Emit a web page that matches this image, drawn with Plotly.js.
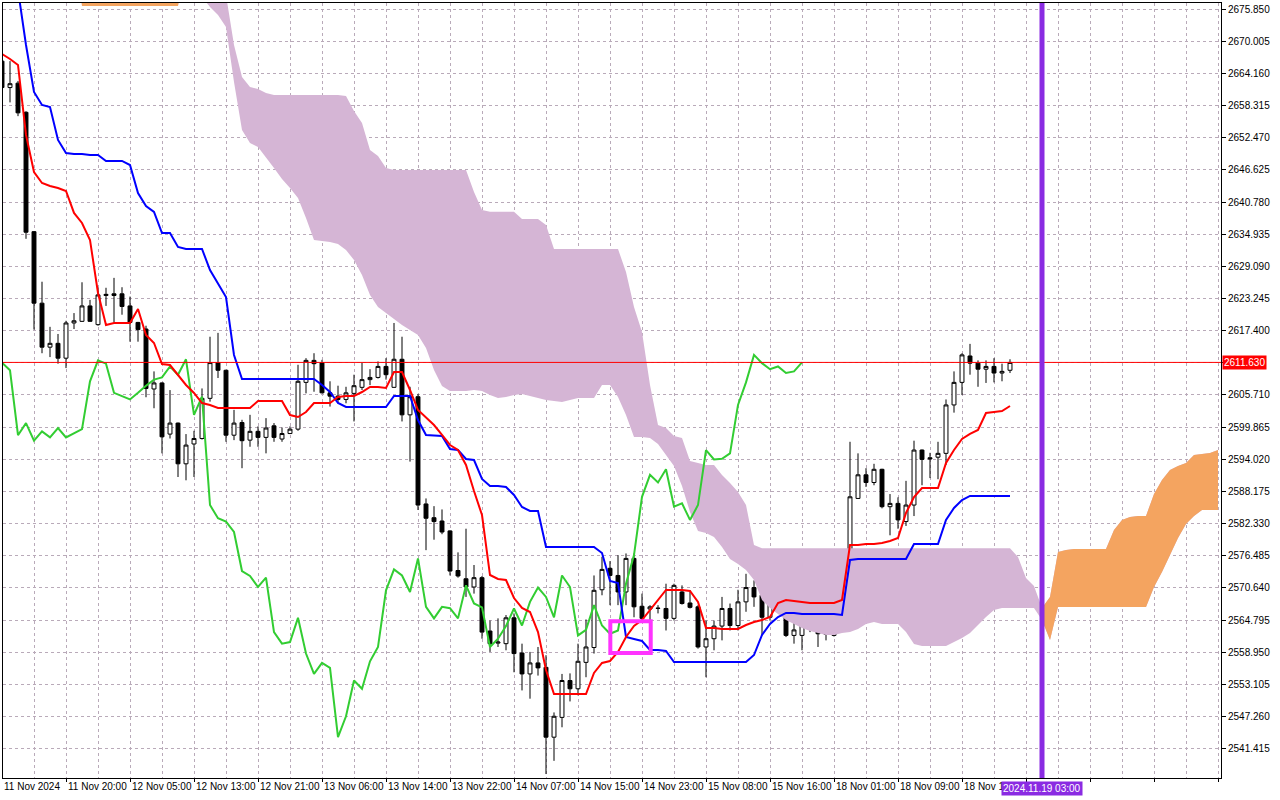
<!DOCTYPE html>
<html><head><meta charset="utf-8">
<script src="https://cdn.plot.ly/plotly-3.0.1.min.js"></script>
<style>html,body{margin:0;padding:0;background:#fff;}#chart{width:1280px;height:800px;}</style>
</head><body><div id="chart"></div>
<script>
// ---- Candles (XAUUSD H1), index 0..126 ----
const openP = [
2666.4,2661.6,2662.4,2657.1,2635.4,2622.4,2614.4,2615.1,2612.4,2618.8,
2619.1,2621.9,2618.5,2623.8,2624.1,2624.1,2621.9,2618.9,2617.7,2606.8,
2607.9,2598.6,2600.6,2593.2,2596.8,2597.8,2605.1,2611.6,2610.2,2598.4,
2600.7,2597.5,2599.1,2598.0,2600.1,2597.7,2598.7,2599.5,2608.0,2612.0,
2611.6,2606.1,2605.5,2604.9,2606.0,2607.1,2608.5,2608.9,2610.9,2607.1,
2612.2,2602.1,2605.4,2585.9,2583.4,2582.8,2581.0,2573.8,2572.3,2570.8,
2572.5,2562.8,2560.6,2560.5,2565.2,2558.8,2555.0,2557.0,2556.2,2543.5,
2547.1,2553.8,2552.3,2557.1,2559.8,2570.3,2574.2,2572.9,2569.9,2576.0,
2567.3,2566.8,2566.9,2566.9,2565.1,2569.9,2567.9,2567.2,2559.9,2561.4,
2563.7,2566.9,2563.8,2568.1,2570.7,2569.3,2565.3,2572.9,2570.9,2562.0,
2562.0,2567.5,2563.8,2562.2,2562.0,2571.4,2576.6,2586.9,2591.2,2589.8,
2592.2,2585.4,2586.0,2582.7,2585.7,2595.7,2594.3,2594.4,2595.1,2603.9,
2608.0,2612.8,2611.5,2610.4,2610.9,2609.7,2610.2];
const highP = [
2667.0,2666.4,2662.8,2657.3,2635.5,2626.3,2618.1,2616.8,2619.2,2620.6,
2626.2,2623.0,2625.2,2625.2,2627.0,2625.3,2623.6,2619.0,2618.3,2610.0,
2608.0,2606.6,2600.7,2598.6,2599.2,2606.9,2616.3,2617.0,2610.3,2603.0,
2601.2,2602.1,2600.0,2601.5,2600.6,2599.8,2600.0,2611.2,2612.4,2613.3,
2612.1,2608.2,2607.4,2607.2,2609.4,2611.6,2610.4,2611.8,2612.4,2618.8,
2616.3,2607.2,2605.9,2586.9,2585.5,2584.9,2581.1,2577.1,2581.4,2574.8,
2572.8,2564.7,2565.1,2565.7,2566.0,2560.5,2559.0,2559.9,2558.4,2548.0,
2555.0,2555.1,2560.5,2564.9,2572.9,2576.3,2575.5,2576.6,2576.9,2576.9,
2569.6,2567.5,2567.5,2571.4,2571.4,2571.1,2570.2,2567.5,2564.7,2564.7,
2569.0,2567.8,2570.3,2573.2,2572.0,2575.7,2576.0,2576.0,2573.5,2564.4,
2567.8,2567.8,2563.9,2563.8,2575.7,2577.5,2597.2,2595.1,2592.4,2593.2,
2592.3,2587.7,2587.1,2590.1,2597.4,2595.8,2595.2,2597.2,2604.9,2610.0,
2613.3,2615.0,2612.0,2612.0,2612.4,2611.4,2612.2];
const lowP = [
2661.0,2658.9,2656.4,2634.1,2617.6,2613.3,2612.6,2611.4,2610.6,2617.7,
2619.0,2619.0,2618.3,2621.9,2618.9,2620.3,2615.4,2615.4,2605.3,2603.3,
2595.1,2597.8,2590.8,2590.2,2590.8,2597.6,2604.5,2608.8,2597.2,2597.5,
2592.4,2596.3,2596.3,2595.1,2597.2,2597.2,2598.6,2599.2,2606.0,2606.3,
2606.0,2603.6,2604.2,2604.2,2600.9,2606.6,2607.5,2608.7,2608.5,2607.0,
2600.9,2593.6,2584.8,2577.5,2579.4,2580.4,2572.9,2572.5,2569.0,2569.6,
2561.4,2559.0,2559.9,2559.3,2555.3,2552.0,2550.5,2554.7,2536.8,2539.2,
2545.3,2550.0,2551.1,2554.4,2558.7,2569.3,2567.5,2567.5,2567.5,2565.3,
2564.4,2564.7,2566.0,2562.9,2564.7,2567.6,2566.9,2559.6,2554.4,2559.3,
2561.1,2562.9,2562.9,2566.3,2567.2,2562.0,2564.7,2570.2,2561.7,2560.5,
2559.3,2562.6,2559.9,2561.1,2561.8,2569.6,2576.3,2586.8,2589.0,2589.3,
2585.1,2580.2,2581.4,2581.9,2583.7,2589.3,2590.6,2590.4,2593.0,2602.5,
2605.7,2609.4,2607.2,2607.9,2608.0,2608.2,2609.7];
const closeP = [
2661.6,2662.3,2657.0,2635.3,2622.4,2614.4,2615.1,2612.4,2618.8,2619.2,
2621.9,2619.1,2623.9,2624.0,2623.8,2621.8,2618.9,2617.6,2606.9,2607.9,
2598.1,2600.6,2593.2,2596.6,2597.8,2605.1,2611.6,2610.2,2598.4,2600.6,
2597.4,2599.1,2598.0,2599.7,2598.0,2598.7,2599.5,2608.2,2612.0,2611.4,
2606.1,2605.5,2604.9,2606.1,2607.4,2608.5,2608.9,2610.9,2609.4,2612.2,
2602.1,2605.4,2585.7,2583.3,2582.7,2580.8,2573.7,2572.8,2570.8,2572.5,
2562.6,2560.5,2560.8,2565.2,2558.7,2555.0,2557.0,2556.1,2543.5,2547.3,
2553.8,2552.3,2557.3,2559.9,2570.2,2574.0,2572.9,2569.9,2576.0,2567.2,
2565.1,2567.2,2566.95,2565.1,2571.1,2567.8,2567.1,2559.9,2561.4,2563.7,
2566.9,2563.8,2568.1,2570.7,2569.0,2565.3,2572.9,2570.8,2562.0,2563.0,
2567.5,2563.8,2562.3,2562.9,2571.4,2576.6,2587.2,2591.2,2589.8,2592.2,
2585.4,2586.0,2583.0,2585.7,2595.7,2594.0,2594.1,2595.1,2603.9,2608.0,
2613.0,2611.5,2610.4,2610.9,2609.7,2610.0,2611.63];

// ---- Ichimoku lines ----
const tenkan = [
2667.70,2666.79,2665.70,2652.98,2646.25,2644.25,2643.71,2643.34,2642.80,2638.80,
2636.98,2633.89,2624.25,2618.43,2618.80,2618.80,2618.80,2621.34,2616.62,2615.16,
2611.34,2611.16,2609.34,2607.53,2606.07,2604.25,2603.89,2603.35,2603.35,2603.35,
2603.35,2603.35,2604.62,2604.62,2604.62,2604.62,2602.07,2601.71,2602.62,2604.25,
2604.25,2604.25,2605.35,2605.53,2605.53,2606.25,2607.16,2607.16,2606.98,2609.89,
2609.89,2606.62,2602.98,2601.53,2600.25,2598.44,2596.62,2595.71,2592.98,2588.26,
2583.89,2572.98,2572.26,2572.08,2568.80,2566.99,2566.26,2562.62,2555.71,2551.35,
2551.35,2551.35,2551.35,2551.35,2555.17,2556.99,2557.35,2558.99,2561.71,2563.71,
2564.80,2566.62,2568.44,2570.26,2570.26,2570.26,2570.08,2568.08,2563.35,2563.35,
2563.17,2563.17,2563.17,2563.89,2564.44,2564.80,2565.35,2567.89,2568.44,2568.26,
2568.08,2567.89,2567.89,2567.89,2567.89,2568.44,2578.44,2578.44,2578.62,2578.62,
2578.80,2579.17,2579.71,2584.26,2587.17,2588.80,2588.80,2588.80,2593.35,2595.71,
2597.71,2598.62,2599.35,2602.44,2602.62,2602.80,2603.71];
const kijun = [
2688.43,2683.88,2679.34,2669.34,2660.79,2658.43,2658.07,2652.07,2649.70,2649.52,
2649.52,2649.34,2649.34,2648.25,2648.25,2648.25,2647.52,2642.43,2640.07,2638.98,
2635.16,2635.16,2632.62,2632.25,2632.25,2632.25,2628.43,2625.89,2623.52,2612.98,
2608.62,2608.62,2608.62,2608.62,2608.62,2608.62,2608.62,2608.62,2608.62,2608.62,
2607.53,2606.25,2604.25,2603.53,2603.53,2603.53,2603.53,2603.53,2603.53,2605.53,
2605.53,2605.53,2601.16,2598.44,2598.35,2598.26,2595.89,2595.71,2594.07,2593.89,
2590.44,2589.17,2589.17,2588.98,2587.53,2585.35,2584.62,2584.62,2578.08,2578.08,
2578.08,2578.08,2578.08,2578.08,2578.08,2576.98,2571.89,2571.53,2561.71,2561.35,
2560.99,2559.35,2559.35,2559.17,2557.17,2557.17,2557.17,2557.17,2557.17,2557.17,
2557.17,2557.17,2557.17,2557.17,2558.44,2562.08,2564.08,2565.35,2566.08,2566.08,
2565.89,2565.89,2565.89,2565.89,2565.89,2565.71,2575.71,2575.89,2575.89,2575.89,
2575.89,2575.89,2575.89,2575.89,2578.62,2578.62,2578.62,2578.62,2582.98,2585.17,
2586.62,2587.35,2587.35,2587.35,2587.35,2587.35,2587.35];
// Senkou spans as drawn (already shifted 26 bars ahead), index 0..152
const spanA = [
2700,2700,2700,2700,2700,2700,2700,2700,2700,2700,
2690,2690,2690,2690,2690,2690,2690,2690,2690,2690,
2690,2690,2690,2695,2695,2678.07,2676.25,2674.79,2672.61,2662.61,
2653.89,2651.52,2650.80,2648.80,2646.98,2644.98,2643.34,2641.52,2637.89,2633.89,
2633.71,2633.52,2633.16,2632.07,2630.25,2627.52,2623.89,2621.71,2620.62,2619.53,
2618.43,2617.53,2616.62,2614.25,2610.25,2607.35,2606.44,2606.44,2606.44,2606.62,
2606.44,2605.71,2605.16,2605.35,2605.71,2605.89,2605.53,2605.16,2604.80,2604.62,
2604.44,2604.80,2605.16,2605.16,2605.16,2607.53,2607.53,2605.35,2602.07,2598.07,
2598.07,2597.89,2596.80,2594.80,2592.80,2589.17,2584.44,2580.98,2580.62,2579.89,
2578.08,2575.89,2574.98,2573.89,2572.08,2568.44,2566.99,2565.89,2564.80,2564.08,
2563.35,2562.80,2562.44,2562.08,2562.08,2562.44,2562.62,2563.17,2564.08,2564.44,
2564.08,2564.08,2564.08,2562.62,2560.44,2560.08,2560.08,2560.08,2560.08,2560.80,
2561.53,2562.44,2563.89,2565.35,2566.62,2566.99,2566.99,2566.99,2566.99,2566.99,
2566.99,2568.99,2577.17,2577.53,2577.71,2577.71,2577.71,2577.71,2577.71,2581.17,
2582.98,2583.53,2583.71,2583.71,2587.71,2590.26,2592.07,2592.80,2593.35,2594.80,
2594.98,2595.16,2595.71];
const spanB = [
2690,2690,2690,2690,2690,2690,2690,2690,2690,2690,
2676.43,2676.43,2676.43,2676.43,2676.43,2676.43,2676.43,2676.43,2676.43,2676.43,
2676.43,2676.43,2676.43,2685,2685,2681.16,2680.25,2679.34,2678.43,2669.34,
2663.52,2661.70,2661.34,2660.61,2660.25,2660.25,2660.25,2660.25,2660.25,2660.25,
2660.25,2660.25,2660.25,2660.07,2657.34,2655.16,2650.25,2649.16,2646.98,2646.61,
2646.61,2646.61,2646.61,2646.61,2646.61,2646.61,2646.61,2646.61,2646.61,2642.61,
2639.34,2639.03,2639.03,2639.03,2639.03,2637.71,2637.71,2637.71,2636.61,2632.25,
2632.25,2632.25,2632.25,2632.25,2632.25,2632.25,2632.25,2632.25,2628.07,2621.71,
2617.16,2607.53,2600.25,2599.71,2598.26,2597.89,2593.71,2593.35,2592.98,2592.98,
2591.16,2589.71,2588.07,2585.71,2578.44,2577.84,2577.84,2577.84,2577.84,2577.84,
2577.84,2577.84,2577.84,2577.84,2577.84,2577.84,2577.84,2577.84,2577.84,2577.84,
2577.84,2577.84,2577.84,2577.84,2577.84,2577.84,2577.84,2577.84,2577.84,2577.84,
2577.84,2577.84,2577.84,2577.84,2577.84,2577.84,2577.84,2576.26,2572.44,2570.99,
2564.80,2561.17,2567.17,2567.17,2567.17,2567.17,2567.17,2567.17,2567.17,2567.17,
2567.17,2567.17,2567.17,2567.17,2570.80,2573.53,2576.62,2579.71,2582.26,2583.71,
2584.80,2584.80,2584.80];
const chikouShift = 26;

// ---- Axis texts ----
const timeLabels = ['11 Nov 2024','11 Nov 20:00','12 Nov 05:00','12 Nov 13:00','12 Nov 21:00',
 '13 Nov 06:00','13 Nov 14:00','13 Nov 22:00','14 Nov 07:00','14 Nov 15:00','14 Nov 23:00',
 '15 Nov 08:00','15 Nov 16:00','18 Nov 01:00','18 Nov 09:00','18 Nov 17:00'];
const labelIndex = [0,8,16,24,32,40,48,56,64,72,80,88,96,104,112,120];
const yTicks = [2541.415,2547.260,2553.105,2558.950,2564.795,2570.640,2576.485,2582.330,
 2588.175,2594.020,2599.865,2605.710,2611.555,2617.400,2623.245,2629.090,2634.935,2640.780,
 2646.625,2652.470,2658.315,2664.160,2670.005,2675.850];
const lastPrice = 2611.63;
const markerIndex = 130;
const markerLabel = '2024.11.19 03:00';
const boxIdx = [76.04, 81.09];
const boxPrice = [2558.80, 2564.57];

// ---- Build ----
const xRange = [0.125, 152.375];
const yRange = [2536.08, 2676.97];
const idx = closeP.map((_, i) => i);
const cIdx = spanA.map((_, i) => i);
const upper = spanA.map((a, i) => Math.max(a, spanB[i]));
const lower = spanA.map((a, i) => Math.min(a, spanB[i]));
const rev = a => a.slice().reverse();

const traces = [];
traces.push({type:'scatter', mode:'lines', x: cIdx.concat(rev(cIdx)), y: upper.concat(rev(lower)),
  fill:'toself', fillcolor:'#d5b5d5', line:{width:0}, hoverinfo:'skip'});
let start = null;
for (let i = 0; i <= spanA.length; i++) {
  const bull = i < spanA.length && spanA[i] > spanB[i];
  if (bull && start === null) start = i;
  if (!bull && start !== null) {
    const xs = cIdx.slice(start, i);
    traces.push({type:'scatter', mode:'lines', x: xs.concat(rev(xs)),
      y: spanA.slice(start, i).concat(rev(spanB.slice(start, i))),
      fill:'toself', fillcolor:'#f4a460', line:{width:0}, hoverinfo:'skip'});
    start = null;
  }
}
traces.push({type:'candlestick', x: idx, open: openP, high: highP, low: lowP, close: closeP,
  increasing:{line:{color:'#000000', width:1}, fillcolor:'#ffffff'},
  decreasing:{line:{color:'#000000', width:1}, fillcolor:'#000000'},
  whiskerwidth:0, hoverinfo:'skip'});
traces.push({type:'scatter', mode:'lines', x: idx.slice(0, closeP.length - chikouShift),
  y: closeP.slice(chikouShift), line:{color:'#32cd32', width:2}, hoverinfo:'skip'});
traces.push({type:'scatter', mode:'lines', x: idx, y: kijun, line:{color:'#0000ff', width:2}, hoverinfo:'skip'});
traces.push({type:'scatter', mode:'lines', x: idx, y: tenkan, line:{color:'#ff0000', width:2}, hoverinfo:'skip'});

const gc = '#b9aab9';
const font = {family:'Liberation Sans, Arial, sans-serif', size:10, color:'#000'};
const frac = i => (i - xRange[0]) / (xRange[1] - xRange[0]);

const annotations = timeLabels.map((t, k) => ({
  x: frac(labelIndex[k]), xref:'paper', y:0, yref:'paper', yanchor:'top', xanchor:'left',
  yshift:-1, text:t, showarrow:false, font:font}));
annotations.push({x: markerIndex, xref:'x', y:0, yref:'paper', yanchor:'top', xanchor:'center',
  yshift:-3, text: markerLabel, showarrow:false, bgcolor:'#8a2be2', borderpad:1,
  font:{family:font.family, size:10, color:'#ffffff'}});
annotations.push({x:1, xref:'paper', y:lastPrice, yref:'y', xanchor:'left', yanchor:'middle',
  xshift:1, text: lastPrice.toFixed(3), showarrow:false, bgcolor:'#ff0000', borderpad:1,
  font:{family:font.family, size:10, color:'#ffffff'}});

// tick text hidden where the current-price box covers it (as in the reference)
const yTickText = yTicks.map(v => Math.abs(v - lastPrice) < 2 ? '' : v.toFixed(3));

const layout = {
  width:1280, height:800, paper_bgcolor:'#ffffff', plot_bgcolor:'#ffffff',
  margin:{l:3, r:59, t:3, b:22}, showlegend:false, hovermode:false, font:font,
  boxgap:0.3,
  xaxis:{range:xRange, rangeslider:{visible:false}, tickmode:'linear', tick0:0, dtick:8,
    showticklabels:false, ticks:'outside', ticklen:3, tickcolor:'#000',
    showgrid:true, gridcolor:gc, griddash:'3px,3px', gridwidth:1,
    minor:{tickmode:'linear', tick0:0, dtick:4, showgrid:true, gridcolor:gc, griddash:'3px,3px', ticks:''},
    showline:true, linecolor:'#000', linewidth:1, mirror:true, zeroline:false, fixedrange:true},
  yaxis:{range:yRange, side:'right', tickmode:'array', tickvals:yTicks,
    ticktext:yTickText, ticks:'outside', ticklen:4, tickcolor:'#000',
    tickfont:font, showgrid:true, gridcolor:gc, griddash:'3px,3px', gridwidth:1,
    showline:true, linecolor:'#000', linewidth:1, mirror:true, zeroline:false, fixedrange:true},
  shapes:[
    {type:'line', xref:'paper', x0:0, x1:1, yref:'y', y0:lastPrice, y1:lastPrice, line:{color:'#ff0000', width:1}},
    {type:'line', xref:'x', x0:markerIndex, x1:markerIndex, yref:'paper', y0:0, y1:1, line:{color:'#8a2be2', width:5}},
    {type:'rect', xref:'x', x0:boxIdx[0], x1:boxIdx[1], yref:'y', y0:boxPrice[0], y1:boxPrice[1], line:{color:'#ff33ff', width:4}}
  ],
  annotations: annotations
};
Plotly.newPlot('chart', traces, layout, {displayModeBar:false, staticPlot:true});
</script>
</body></html>
